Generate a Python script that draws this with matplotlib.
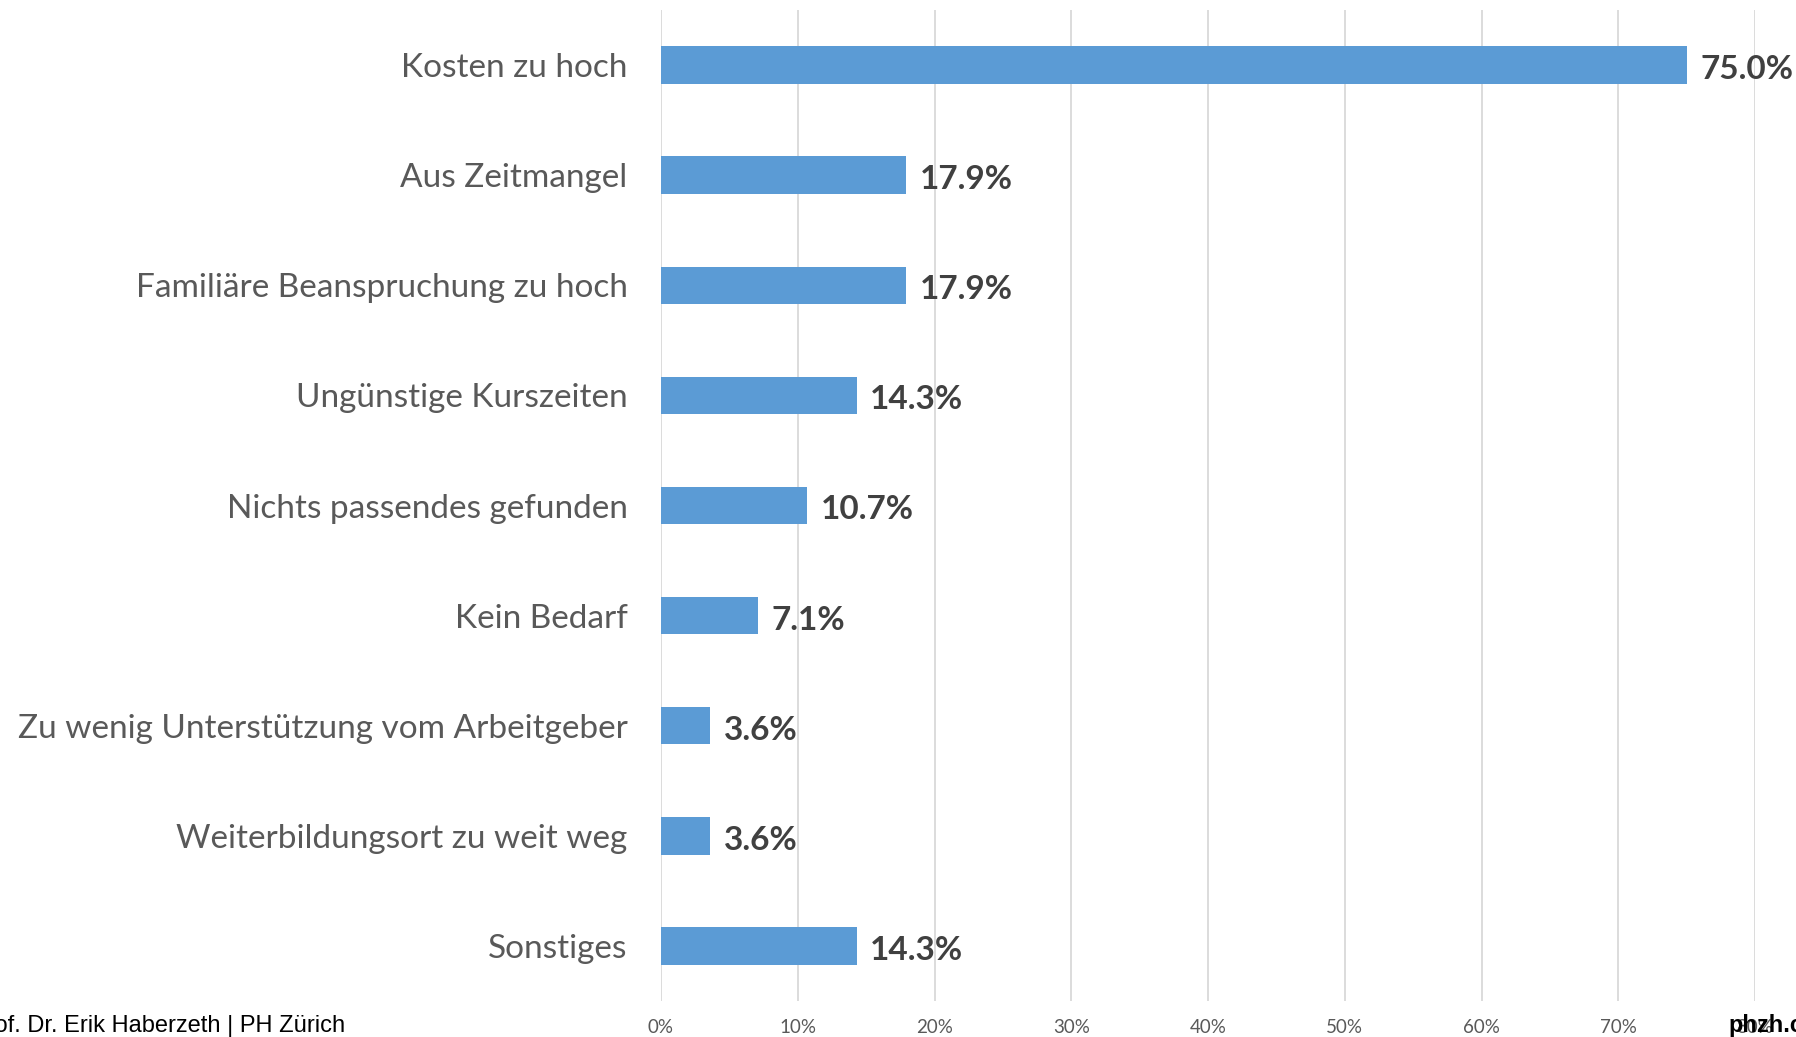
import matplotlib.pyplot as plt
from matplotlib.ticker import PercentFormatter

# === Daten ===
kategorien = [
    "Kosten zu hoch",
    "Aus Zeitmangel",
    "Familiäre Beanspruchung zu hoch",
    "Ungünstige Kurszeiten",
    "Nichts passendes gefunden",
    "Kein Bedarf",
    "Zu wenig Unterstützung vom Arbeitgeber",
    "Weiterbildungsort zu weit weg",
    "Sonstiges",
]
anteile = [75.0, 17.9, 17.9, 14.3, 10.7, 7.1, 3.6, 3.6, 14.3]
x_ticks = [0, 10, 20, 30, 40, 50, 60, 70, 80]

BAR_COLOR = "#5B9BD5"

fig = plt.figure(figsize=(17.96, 10.37), dpi=100)
ax = fig.add_axes([661 / 1796, 36 / 1037, (1755 - 661) / 1796, (1001 - 10) / 1037])

y = list(range(len(kategorien)))
ax.barh(y, anteile, height=0.34, color=BAR_COLOR, zorder=3)

for yi, v in zip(y, anteile):
    ax.text(v + 1.0, yi + 0.04, f"{v:.1f}%", va="center", ha="left",
            fontsize=24, fontweight="bold", color="#404040",
            family="Lato", zorder=4, clip_on=False)

ax.set_ylim(len(kategorien) - 0.5, -0.5)
ax.set_xlim(0, 80)
ax.set_yticks(y)
ax.set_yticklabels(kategorien, fontsize=24, color="#595959", family="Lato")
ax.set_xticks(x_ticks)
ax.xaxis.set_major_formatter(PercentFormatter(decimals=0))
for lbl in ax.get_xticklabels():
    lbl.set_family("Lato")
    lbl.set_fontsize(13.5)
    lbl.set_color("#595959")

ax.tick_params(axis="y", length=0, pad=24)
ax.tick_params(axis="x", length=0, pad=13)
ax.grid(axis="x", color="#D9D9D9", linewidth=1.3, zorder=0)
for s in ax.spines.values():
    s.set_visible(False)

# === Fusszeile ===
fig.text(345 / 1796, 1 - 1032 / 1037, "Prof. Dr. Erik Haberzeth | PH Zürich",
         ha="right", va="baseline", fontsize=17, family="Liberation Sans", color="black")
fig.text(1728 / 1796, 1 - 1032 / 1037, "phzh.ch", ha="left", va="baseline",
         fontsize=17, fontweight="bold", family="Liberation Sans", color="black")

fig.savefig("out.png", dpi=100, facecolor="white")
